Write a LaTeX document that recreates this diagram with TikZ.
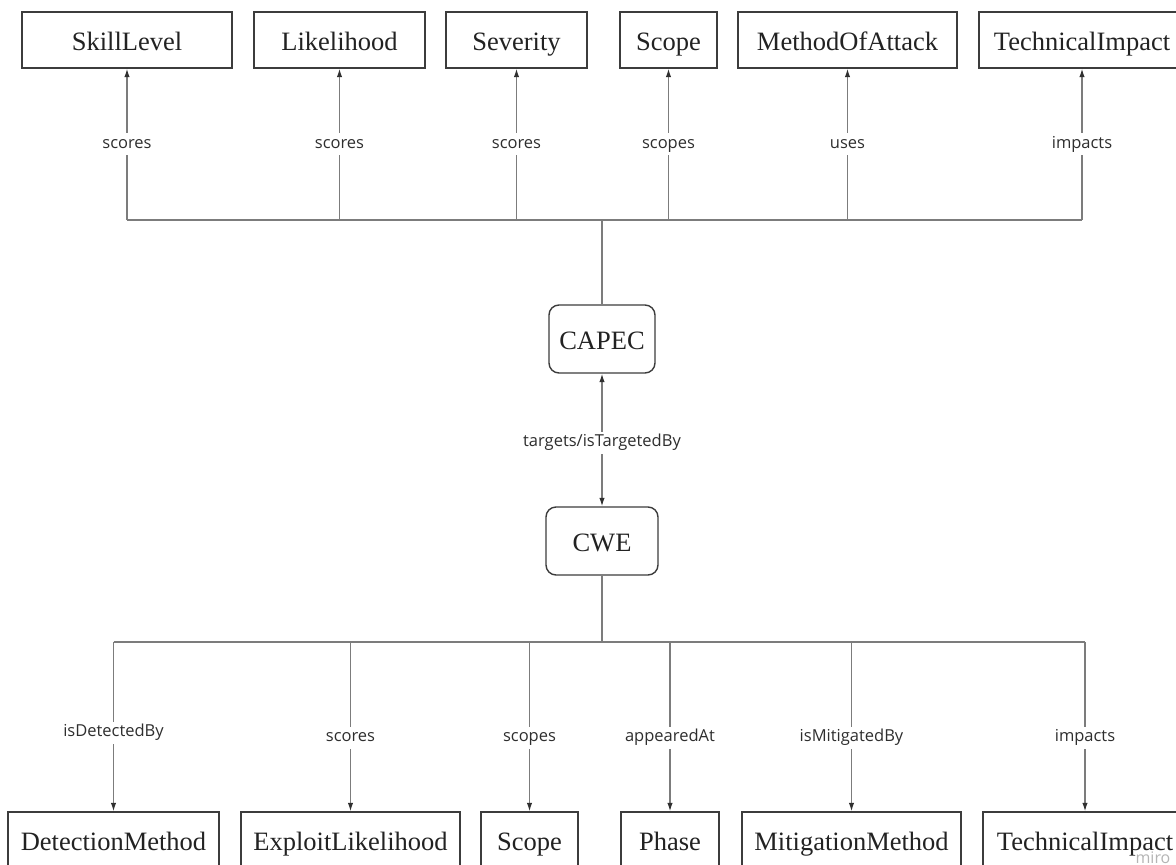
\documentclass[tikz,border=0pt]{standalone}
\usepackage{fontspec}
\setmainfont{Liberation Serif}
\newfontfamily\labelfont{Open Sans}
\usetikzlibrary{arrows.meta}

\definecolor{boxline}{HTML}{3C3C3C}
\definecolor{boxtext}{HTML}{222222}
\definecolor{connline}{HTML}{7C7C7C}
\definecolor{tipcol}{HTML}{303030}
\definecolor{lbltext}{HTML}{2E2E2E}
\definecolor{markgray}{HTML}{B4B4B4}

\begin{document}
\begin{tikzpicture}[x=1pt,y=-1pt,
  entity/.style={draw=boxline, line width=1.4pt, minimum height=56pt, inner sep=0pt,
    text height=20pt, text depth=0pt, text=boxtext, font=\fontsize{26.5}{30}\selectfont},
  core/.style={entity, rounded corners=10pt, minimum height=68pt},
  conn/.style={draw=connline, line width=1.3pt},
  arr/.style={conn, -{Latex[length=8.5pt,width=5.5pt,color=tipcol]}},
  biarr/.style={conn, {Latex[length=8.5pt,width=5.5pt,color=tipcol]}-{Latex[length=8.5pt,width=5.5pt,color=tipcol]}},
  lbl/.style={fill=white, inner sep=4pt, text=lbltext, text height=11pt, text depth=3pt,
    font=\labelfont\fontsize{16.5}{19}\selectfont},
]
\useasboundingbox (0,0) rectangle (1176,865);
\clip (0,0) rectangle (1176,865);

% CAPEC attributes along the top
\node[entity, minimum width=210pt] (skill)   at (127,40)    {SkillLevel};
\node[entity, minimum width=171pt] (likeli)  at (339.5,40)  {Likelihood};
\node[entity, minimum width=141pt] (sever)   at (516.5,40)  {Severity};
\node[entity, minimum width=97pt]  (tscope)  at (668.5,40)  {Scope};
\node[entity, minimum width=219pt] (method)  at (847.5,40)  {MethodOfAttack};
\node[entity, minimum width=206pt] (timpact) at (1082,40)   {TechnicalImpact};

% the two central entities
\node[core, minimum width=106pt] (capec) at (602,339) {CAPEC};
\node[core, minimum width=112pt] (cwe)   at (602,541) {CWE};

% CWE attributes along the bottom
\node[entity, minimum width=211pt] (detect)  at (113.5,840) {DetectionMethod};
\node[entity, minimum width=219pt] (exploit) at (350.5,840) {ExploitLikelihood};
\node[entity, minimum width=97pt]  (bscope)  at (529.5,840) {Scope};
\node[entity, minimum width=98pt]  (phase)   at (670,840)   {Phase};
\node[entity, minimum width=219pt] (mitig)   at (851.5,840) {MitigationMethod};
\node[entity, minimum width=204pt] (bimpact) at (1085,840)  {TechnicalImpact};

% bus lines
\coordinate (tbus) at (602,220);
\coordinate (bbus) at (602,642);
\draw[conn] (capec.north) -- (tbus);
\draw[conn] (skill.south |- tbus) -- (timpact.south |- tbus);
\draw[conn] (cwe.south) -- (bbus);
\draw[conn] (detect.north |- bbus) -- (bimpact.north |- bbus);

% top relations
\draw[arr] (skill.south |- tbus)   -- node[lbl] {scores}  (skill.south);
\draw[arr] (likeli.south |- tbus)  -- node[lbl] {scores}  (likeli.south);
\draw[arr] (sever.south |- tbus)   -- node[lbl] {scores}  (sever.south);
\draw[arr] (tscope.south |- tbus)  -- node[lbl] {scopes}  (tscope.south);
\draw[arr] (method.south |- tbus)  -- node[lbl] {uses}    (method.south);
\draw[arr] (timpact.south |- tbus) -- node[lbl] {impacts} (timpact.south);

% CAPEC <-> CWE
\draw[biarr] (capec.south) -- node[lbl, pos=0.52] {targets/isTargetedBy} (cwe.north);

% bottom relations
\draw[arr] (detect.north |- bbus)  -- node[lbl, pos=0.535] {isDetectedBy}  (detect.north);
\draw[arr] (exploit.north |- bbus) -- node[lbl, pos=0.565] {scores}        (exploit.north);
\draw[arr] (bscope.north |- bbus)  -- node[lbl, pos=0.565] {scopes}        (bscope.north);
\draw[arr] (phase.north |- bbus)   -- node[lbl, pos=0.565] {appearedAt}    (phase.north);
\draw[arr] (mitig.north |- bbus)   -- node[lbl, pos=0.565] {isMitigatedBy} (mitig.north);
\draw[arr] (bimpact.north |- bbus) -- node[lbl, pos=0.565] {impacts}       (bimpact.north);

% corner mark
\node[anchor=base, text=markgray, inner sep=0pt, font=\labelfont\fontsize{16}{18}\selectfont] (mark) at (1153,863) {miro};
\end{tikzpicture}
\end{document}
